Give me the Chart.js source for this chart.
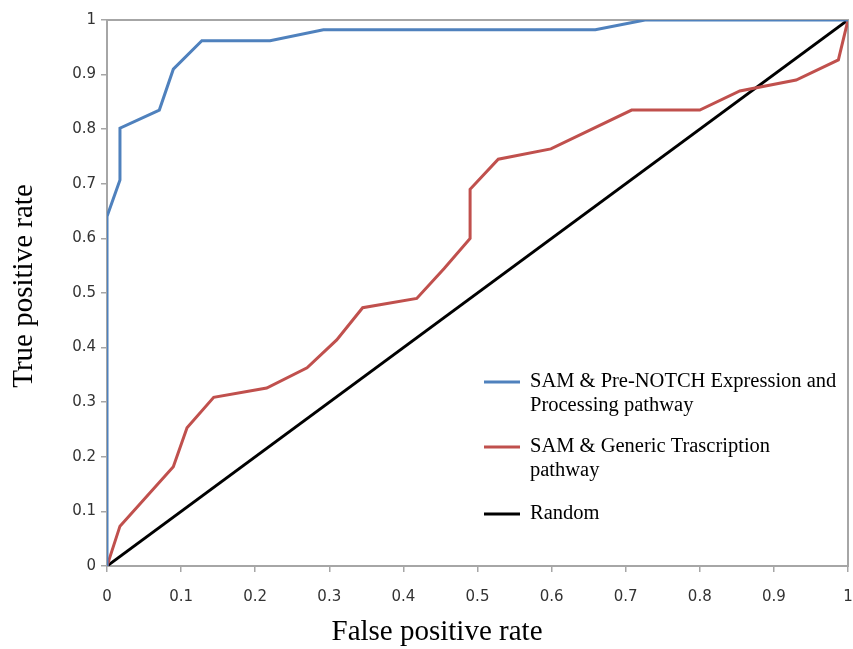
<!DOCTYPE html>
<html>
<head>
<meta charset="utf-8">
<script src="https://cdn.jsdelivr.net/npm/chart.js@4"></script>
<style>
  html, body { margin: 0; padding: 0; background: #fff; overflow: hidden; }
  #wrap { width: 853px; height: 649px; }
</style>
</head>
<body>
<div id="wrap"><canvas id="roc"></canvas></div>
<script>
// ROC curves (x = false positive rate, y = true positive rate)
const notchX = [0, 0, 0.0175, 0.0175, 0.0706, 0.0895, 0.128, 0.22, 0.292, 0.659, 0.726, 1];
const notchY = [0, 0.64, 0.707, 0.802, 0.835, 0.910, 0.962, 0.962, 0.982, 0.982, 1, 1];

const genericX = [0, 0.0175, 0.0895, 0.108, 0.144, 0.2155, 0.270, 0.31, 0.345, 0.418, 0.455, 0.49, 0.49, 0.528, 0.599, 0.708, 0.80, 0.854, 0.93, 0.987, 1];
const genericY = [0, 0.073, 0.182, 0.253, 0.309, 0.326, 0.363, 0.414, 0.473, 0.490, 0.545, 0.600, 0.690, 0.745, 0.764, 0.835, 0.835, 0.870, 0.89, 0.927, 1];

const randomX = [0, 1];
const randomY = [0, 1];

const xTickLabels = ['0', '0.1', '0.2', '0.3', '0.4', '0.5', '0.6', '0.7', '0.8', '0.9', '1'];
const yTickLabels = ['0', '0.1', '0.2', '0.3', '0.4', '0.5', '0.6', '0.7', '0.8', '0.9', '1'];

const notchLabel = ['SAM & Pre-NOTCH Expression and', 'Processing pathway'];
const genericLabel = ['SAM & Generic Trascription', 'pathway'];
const randomLabel = ['Random'];

const xTitle = 'False positive rate';
const yTitle = 'True positive rate';

function toPoints(xs, ys) {
    return xs.map((x, i) => ({ x: x, y: ys[i] }));
}

const serif = '"Liberation Serif", "Times New Roman", serif';

// frame round the plot area (top and right sides too)
const framePlugin = {
    id: 'frame',
    beforeDatasetsDraw(chart) {
        const { ctx, chartArea: a } = chart;
        ctx.save();
        ctx.strokeStyle = '#a6a6a6';
        ctx.lineWidth = 2;
        ctx.strokeRect(a.left, a.top, a.right - a.left, a.bottom - a.top);
        ctx.restore();
    }
};

// axis titles, placed like the original (x title is not centred on the plot)
const titlePlugin = {
    id: 'axisTitles',
    afterDraw(chart) {
        const ctx = chart.ctx;
        ctx.save();
        ctx.fillStyle = '#000';
        ctx.font = '29px ' + serif;
        ctx.textAlign = 'center';
        ctx.textBaseline = 'middle';
        ctx.fillText(xTitle, 437, 632);
        ctx.translate(24, 286);
        ctx.rotate(-Math.PI / 2);
        ctx.fillText(yTitle, 0, 0);
        ctx.restore();
    }
};

// legend inside the plot, with wrapped labels
const legendPlugin = {
    id: 'innerLegend',
    afterDraw(chart) {
        const ctx = chart.ctx;
        const itemTops = [382, 447, 514];
        ctx.save();
        ctx.font = '20.5px ' + serif;
        ctx.textBaseline = 'middle';
        ctx.fillStyle = '#000';
        chart.data.datasets.forEach((ds, i) => {
            const y = itemTops[i];
            ctx.strokeStyle = ds.borderColor;
            ctx.lineWidth = 3;
            ctx.beginPath();
            ctx.moveTo(484, y);
            ctx.lineTo(520, y);
            ctx.stroke();
            ds.label.forEach((line, j) => {
                ctx.fillText(line, 530, y + j * 24);
            });
        });
        ctx.restore();
    }
};

const lineStyle = { pointRadius: 0, tension: 0, fill: false, borderWidth: 3 };
const tickFont = { family: '"DejaVu Sans", Verdana, sans-serif', size: 15 };

new Chart(document.getElementById('roc'), {
    type: 'line',
    data: {
        datasets: [
            Object.assign({ label: notchLabel, data: toPoints(notchX, notchY), borderColor: '#4f81bd' }, lineStyle),
            Object.assign({ label: genericLabel, data: toPoints(genericX, genericY), borderColor: '#c0504d' }, lineStyle),
            Object.assign({ label: randomLabel, data: toPoints(randomX, randomY), borderColor: '#000000' }, lineStyle)
        ]
    },
    options: {
        responsive: true,
        maintainAspectRatio: false,
        animation: false,
        layout: { padding: { top: 20, right: 5, left: 0, bottom: 0 } },
        plugins: { legend: { display: false }, tooltip: { enabled: false } },
        scales: {
            x: {
                type: 'linear',
                min: 0, max: 1,
                afterFit(scale) {
                    scale.height = 83;
                    scale.paddingLeft = 0;
                    scale.paddingRight = 0;
                },
                grid: { display: true, drawOnChartArea: false, drawTicks: true, tickLength: 6, color: '#a6a6a6', lineWidth: 1.5 },
                border: { display: true, color: '#a6a6a6', width: 2 },
                ticks: {
                    stepSize: 0.1,
                    maxRotation: 0,
                    padding: 16,
                    color: '#333333',
                    font: tickFont,
                    callback(value, index) { return xTickLabels[index]; }
                },
                title: { display: false }
            },
            y: {
                type: 'linear',
                min: 0, max: 1,
                afterFit(scale) {
                    scale.width = 107;
                    scale.paddingTop = 0;
                    scale.paddingBottom = 0;
                },
                grid: { display: true, drawOnChartArea: false, drawTicks: true, tickLength: 6, color: '#a6a6a6', lineWidth: 1.5 },
                border: { display: true, color: '#a6a6a6', width: 2 },
                ticks: {
                    stepSize: 0.1,
                    padding: 5,
                    color: '#333333',
                    font: tickFont,
                    callback(value, index) { return yTickLabels[index]; }
                },
                title: { display: false }
            }
        }
    },
    plugins: [framePlugin, titlePlugin, legendPlugin]
});
</script>
</body>
</html>
